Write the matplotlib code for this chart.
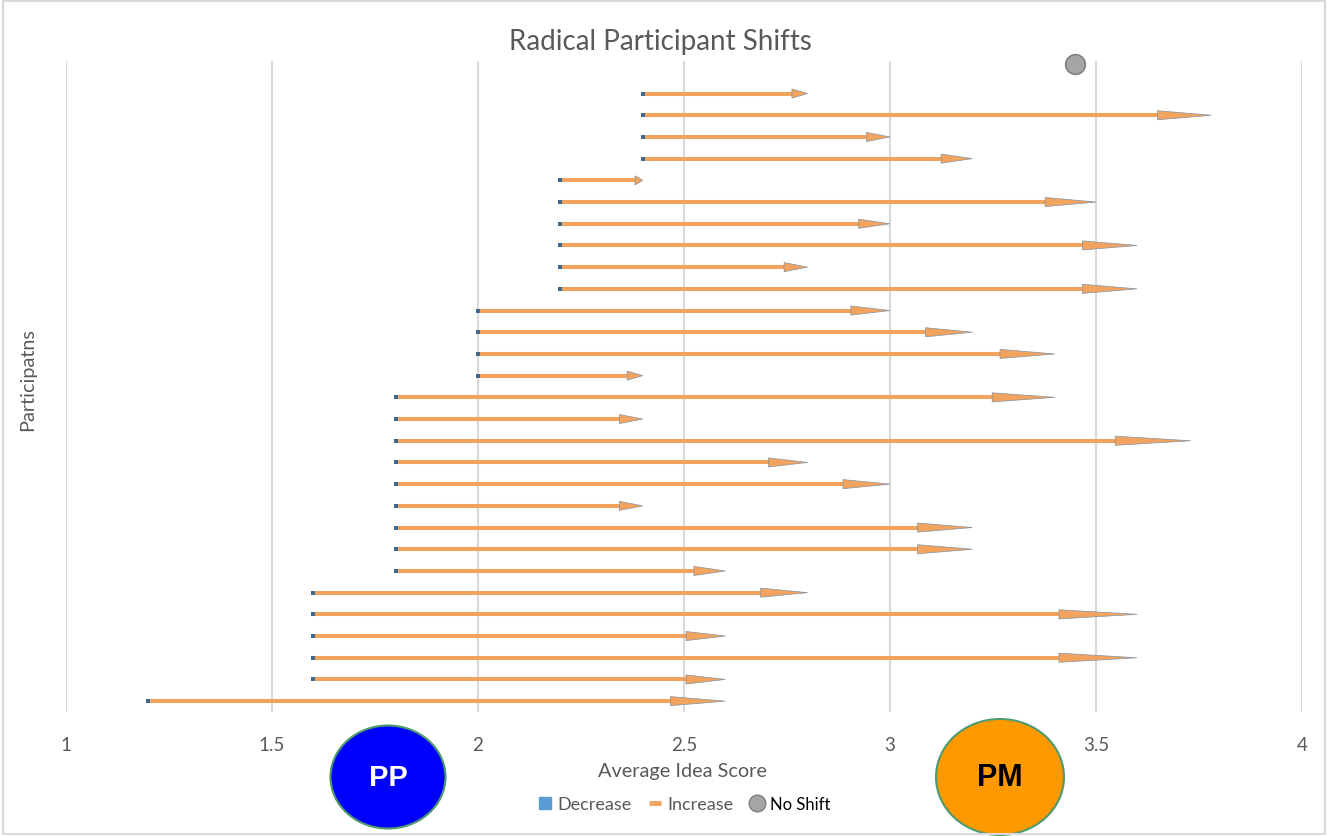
import matplotlib
matplotlib.use("Agg")
import matplotlib.pyplot as plt
from matplotlib.patches import Ellipse, Rectangle
from matplotlib.lines import Line2D
import numpy as np

plt.rcParams['font.family'] = ['Lato', 'DejaVu Sans']

# Data (top row first)
start_scores = [2.4, 2.4, 2.4, 2.4, 2.2, 2.2, 2.2, 2.2, 2.2, 2.2, 2.0, 2.0, 2.0, 2.0,
                1.8, 1.8, 1.8, 1.8, 1.8, 1.8, 1.8, 1.8, 1.8, 1.6, 1.6, 1.6, 1.6, 1.6, 1.2]
end_scores = [2.8, 3.78, 3.0, 3.2, 2.4, 3.5, 3.0, 3.6, 2.8, 3.6, 3.0, 3.2, 3.4, 2.4,
              3.4, 2.4, 3.73, 2.8, 3.0, 2.4, 3.2, 3.2, 2.6, 2.8, 3.6, 2.6, 3.6, 2.6, 2.6]
no_shift_x = [3.45]
no_shift_y = [30.38]
x_ticks = [1, 1.5, 2, 2.5, 3, 3.5, 4]
x_tick_labels = ["1", "1.5", "2", "2.5", "3", "3.5", "4"]

W, H = 1329, 837
fig = plt.figure(figsize=(W / 100, H / 100), dpi=100)
ax = fig.add_axes([66 / W, 1 - 713 / H, (1302 - 66) / W, (713 - 62) / H])

n = len(start_scores)
ys = np.arange(n, 0, -1)

orange = '#F2A35E'
for s, e, y in zip(start_scores, end_scores, ys):
    dx = e - s
    hl = 0.095 * dx
    hw = 0.21
    ax.plot([s, e - hl * 0.9], [y, y], color=orange, lw=2.9, solid_capstyle='butt', zorder=2)
    ax.fill([e - hl, e, e - hl], [y - hw, y, y + hw], facecolor=orange,
            edgecolor='#8592A2', lw=0.5, zorder=3)
    ax.scatter([s], [y], marker='s', s=9, color='#41678C', zorder=4, linewidths=0)

ax.scatter(no_shift_x, no_shift_y, s=200, color='#A5A5A5', edgecolors='#7F7F7F',
           linewidths=1.2, zorder=5, clip_on=False)

ax.set_xlim(1, 4)
ax.set_ylim(0.5, 30.5)
ax.set_xticks(x_ticks)
ax.set_xticklabels(x_tick_labels, fontsize=13.5, color='#595959')
ax.set_yticks([])
ax.tick_params(axis='x', length=0, pad=17)
for sp in ax.spines.values():
    sp.set_visible(False)
ax.grid(axis='x', color='#D9D9D9', lw=1.5, zorder=0)
ax.set_axisbelow(True)

fig.text(660 / W, 1 - 42 / H, "Radical Participant Shifts", ha='center', va='center',
         fontsize=20, color='#595959')
fig.text(28 / W, 1 - 380 / H, "Participatns", rotation=90, ha='center', va='center',
         fontsize=14.3, color='#595959')
fig.text(682 / W, 1 - 772 / H, "Average Idea Score", ha='center', va='center',
         fontsize=14.3, color='#595959')

# legend
handles = [
    Line2D([], [], marker='s', ls='none', color='#5B9BD5', markersize=8),
    Line2D([], [], marker='_', ls='none', color='#F2A35E', markersize=9, markeredgewidth=3.5),
    Line2D([], [], marker='o', ls='none', markerfacecolor='#A5A5A5', markeredgecolor='#7F7F7F',
           markersize=12),
]
leg = fig.legend(handles, ["Decrease", "Increase", "No Shift"], loc='center',
                 bbox_to_anchor=(684 / W, 1 - 805 / H), ncol=3, frameon=False,
                 fontsize=13, handlelength=0.8, handletextpad=0.3, columnspacing=0.9)
for t, c in zip(leg.get_texts(), ['#595959', '#595959', 'black']):
    t.set_color(c)
leg.get_texts()[2].set_fontsize(12)

# ellipse labels
e1 = Ellipse((388 / W, 1 - 778 / H), 115 / W, 103 / H, transform=fig.transFigure,
             facecolor='#0000FF', edgecolor='#4E9A6E', lw=1.5)
e2 = Ellipse((1000 / W, 1 - 778 / H), 128 / W, 116 / H, transform=fig.transFigure,
             facecolor='#FF9900', edgecolor='#4E9A6E', lw=1.5)
fig.add_artist(e1)
fig.add_artist(e2)
fig.text(388 / W, 1 - 778 / H, "PP", ha='center', va='center', fontsize=21,
         fontweight='bold', color='white', family='Liberation Sans')
fig.text(1000 / W, 1 - 778 / H, "PM", ha='center', va='center', fontsize=22,
         fontweight='bold', color='black', family='Liberation Sans')

# chart border
fig.add_artist(Rectangle((3 / W, 2 / H), (1325 - 3) / W, (835 - 2) / H, transform=fig.transFigure,
                         fill=False, edgecolor='#D9D9D9', lw=1.5))

fig.savefig("out.png", dpi=100)
